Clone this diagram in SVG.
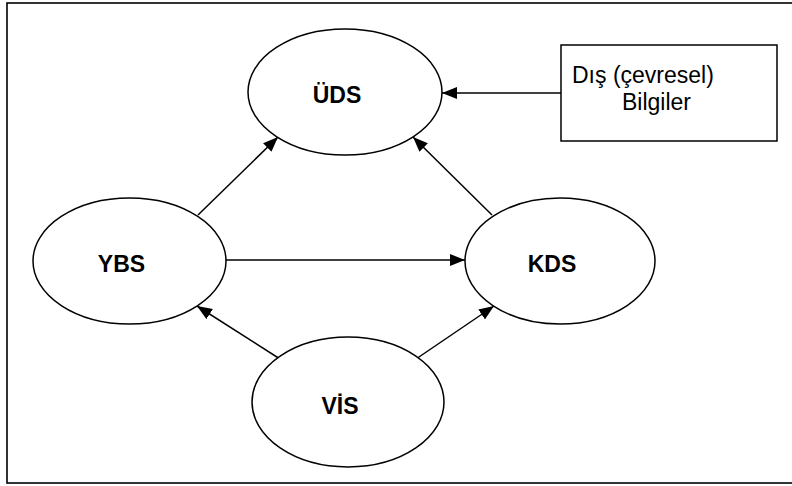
<svg xmlns="http://www.w3.org/2000/svg" width="792" height="486" viewBox="0 0 792 486">
  <style>
    .frame { fill: none; stroke: #000; stroke-width: 1.6; }
    .node { fill: #fff; stroke: #000; stroke-width: 1.5; }
    .label { font-family: "Liberation Sans", Arial, sans-serif; font-size: 23px; font-weight: bold; fill: #000; text-anchor: middle; }
    .note { font-family: "Liberation Sans", Arial, sans-serif; font-size: 23px; fill: #000; }
    .edge { fill: none; stroke: #000; stroke-width: 1.5; marker-end: url(#arrow); }
  </style>
  <defs>
    <marker id="arrow" markerUnits="userSpaceOnUse" markerWidth="16" markerHeight="12" refX="15" refY="6" orient="auto">
      <path d="M0,0 L15,6 L0,12 Z" fill="#000"/>
    </marker>
  </defs>

  <rect width="792" height="486" fill="#fff"/>

  <!-- outer frame -->
  <rect class="frame" x="7" y="3" width="792" height="480"/>

  <!-- connectors -->
  <g id="connectors">
    <line class="edge" x1="561" y1="93" x2="442" y2="93"/>
    <line class="edge" x1="198" y1="215" x2="278" y2="137"/>
    <line class="edge" x1="492" y1="215" x2="413" y2="137"/>
    <line class="edge" x1="226" y1="260" x2="465" y2="260"/>
    <line class="edge" x1="280" y1="359" x2="197" y2="306"/>
    <line class="edge" x1="416" y1="359" x2="494" y2="306"/>
  </g>

  <g id="uds">
    <ellipse class="node" cx="345" cy="92" rx="97" ry="63"/>
    <text class="label" x="337" y="103">ÜDS</text>
  </g>

  <g id="ybs">
    <ellipse class="node" cx="129.5" cy="261" rx="96.5" ry="63"/>
    <text class="label" x="121.5" y="272">YBS</text>
  </g>

  <g id="kds">
    <ellipse class="node" cx="560" cy="261" rx="95" ry="63"/>
    <text class="label" x="552" y="272">KDS</text>
  </g>

  <g id="vis">
    <ellipse class="node" cx="348" cy="402" rx="96" ry="65"/>
    <text class="label" x="340" y="414">VİS</text>
  </g>

  <g id="dis-bilgiler">
    <rect class="node" x="561" y="45" width="216" height="96"/>
    <text class="note" x="572" y="83">Dış (çevresel)</text>
    <text class="note" x="622" y="110">Bilgiler</text>
  </g>
</svg>
